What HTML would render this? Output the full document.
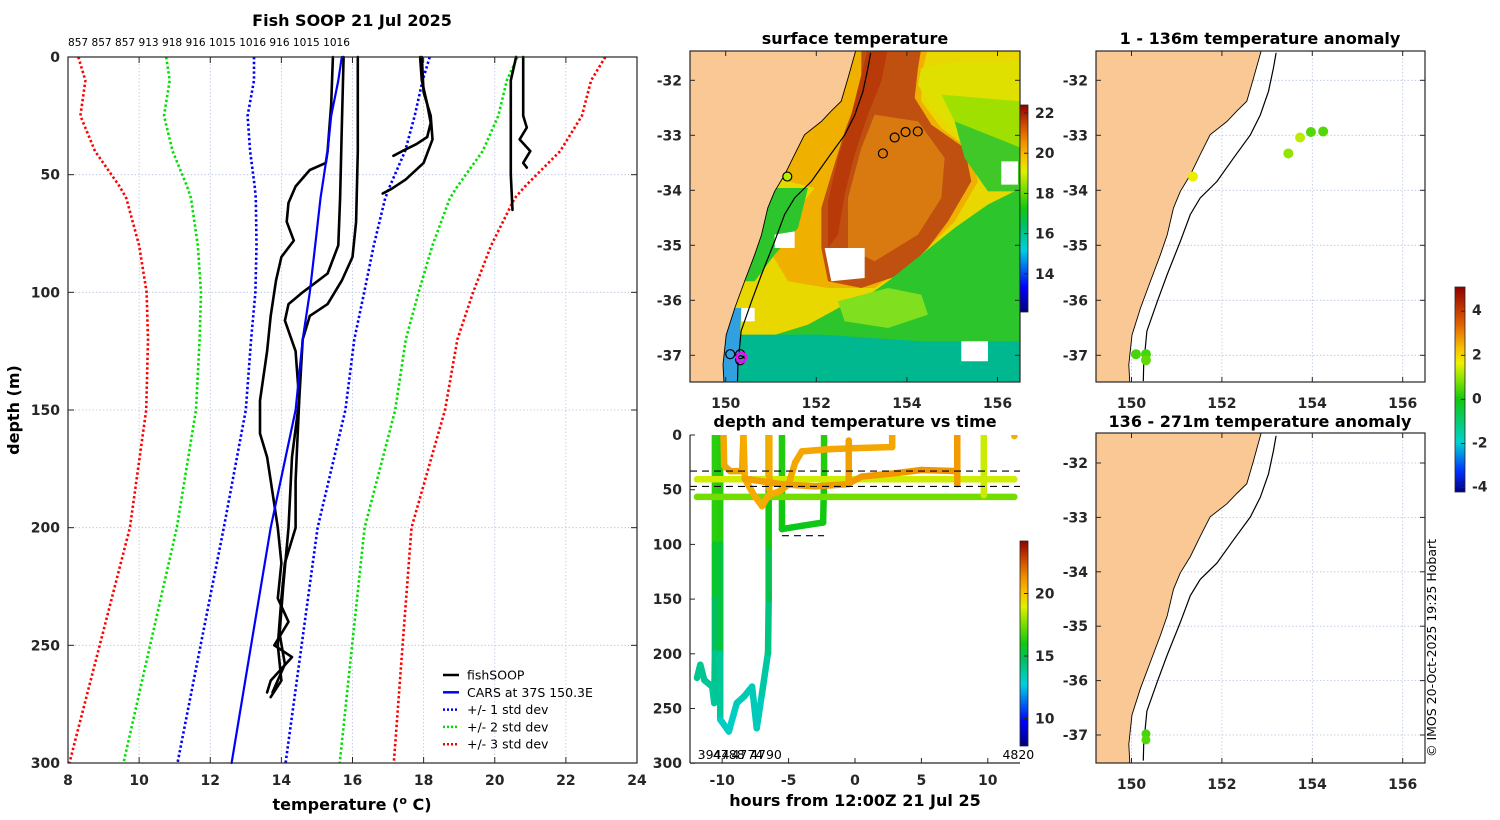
<!DOCTYPE html>
<html><head><meta charset="utf-8">
<style>
html,body{margin:0;padding:0;background:#fff;}
svg{display:block;font-family:"DejaVu Sans","Liberation Sans",sans-serif;}
.tk{font-size:14px;font-weight:bold;fill:#262626;}
.ttl{font-size:16px;font-weight:bold;fill:#000;}
.sm{font-size:11px;fill:#000;}
.lg{font-size:12.5px;fill:#000;}
</style></head>
<body>
<svg id="fig" width="1500" height="820" viewBox="0 0 1500 820" xmlns="http://www.w3.org/2000/svg">
<defs>
<clipPath id="cp1"><rect x="690" y="51" width="330" height="331"/></clipPath>
<clipPath id="cp2"><rect x="1096" y="51" width="329" height="331"/></clipPath>
<clipPath id="cp3"><rect x="1096" y="433" width="329" height="330"/></clipPath>
<clipPath id="cp4"><rect x="690" y="435" width="330" height="328"/></clipPath>
<linearGradient id="gT" x1="0" y1="1" x2="0" y2="0">
<stop offset="0" stop-color="#00007f"/><stop offset="0.12" stop-color="#0000ff"/><stop offset="0.3" stop-color="#00d0e0"/><stop offset="0.42" stop-color="#00c060"/><stop offset="0.5" stop-color="#10c810"/><stop offset="0.6" stop-color="#80e000"/><stop offset="0.68" stop-color="#e0f000"/><stop offset="0.75" stop-color="#f8c000"/><stop offset="0.82" stop-color="#f09000"/><stop offset="0.9" stop-color="#d05000"/><stop offset="1" stop-color="#900000"/>
</linearGradient>
<linearGradient id="gA" x1="0" y1="1" x2="0" y2="0">
<stop offset="0" stop-color="#00007f"/><stop offset="0.1" stop-color="#0030ff"/><stop offset="0.24" stop-color="#00d0d0"/><stop offset="0.45" stop-color="#10c810"/><stop offset="0.57" stop-color="#a0e800"/><stop offset="0.63" stop-color="#f0f000"/><stop offset="0.7" stop-color="#f8c000"/><stop offset="0.82" stop-color="#e06000"/><stop offset="1" stop-color="#900000"/>
</linearGradient>
</defs>
</svg>
<script>
// ---------- data ----------
const profDepths = [0,10,25,40,55,60,80,100,120,150,200,250,300];
const carsMean   = [15.7,15.6,15.4,15.3,15.15,15.1,14.95,14.8,14.6,14.4,13.7,13.15,12.6];
const carsStd    = [2.47,2.37,2.35,2.18,1.9,1.82,1.65,1.53,1.45,1.4,1.32,1.42,1.52];
const fish1 = [[15.45,0],[15.4,20],[15.3,40],[15.25,45],[14.8,48],[14.4,55],[14.2,62],[14.15,70],[14.35,78],[14.0,85],[13.85,95],[13.7,110],[13.6,125],[13.4,146],[13.4,160],[13.6,170],[13.7,180],[13.9,200],[14.0,215],[13.9,230],[14.2,240],[13.8,250],[14.3,255],[13.7,265],[13.6,270]];
const fish2 = [[15.75,0],[15.7,30],[15.65,60],[15.6,80],[15.3,92],[14.6,100],[14.2,105],[14.1,112],[14.4,125],[14.5,146],[14.3,170],[14.2,200],[14.05,225],[13.95,245],[14.1,258],[13.75,270]];
const fish3 = [[16.15,0],[16.15,40],[16.1,70],[16.0,85],[15.7,95],[15.3,105],[14.8,110],[14.6,120],[14.5,146],[14.4,180],[14.4,200],[14.1,215],[14.0,230],[13.9,250],[14.0,265],[13.7,272]];
const fish4 = [[17.9,0],[17.95,10],[18.1,20],[18.2,28],[18.1,34],[17.8,37],[17.4,40],[17.15,42]];
const fish5 = [[17.95,0],[18.0,15],[18.2,25],[18.25,35],[18.0,45],[17.5,52],[17.1,56],[16.85,58]];
const fish6 = [[20.6,0],[20.45,10],[20.45,30],[20.45,50],[20.5,65]];
const fish7 = [[20.8,0],[20.8,25],[20.9,30],[20.7,35],[21.0,40],[20.8,45],[20.9,47]];
const topDepthLabels = ["857","857","857","913","918","916","1015","1016","916","1015","1016"];
const tempTicks = [8,10,12,14,16,18,20,22,24];
const depthTicks = [0,50,100,150,200,250,300];

// time plot tracks [hours, depth, temp]
const trackA = [[-10.55,0,16.6],[-10.55,100,16.2],[-10.55,150,15.0],[-10.55,199,14.3],[-10.6,245,13.8],[-10.75,230,13.8],[-11.35,224,13.8],[-11.65,210,14.0],[-11.9,222,13.9]];
const trackB = [[-10.15,0,16.6],[-10.15,100,16.0],[-10.15,200,14.5],[-10.15,260,13.2],[-9.5,271,13.0],[-8.9,245,13.3],[-8.35,239,13.4],[-7.75,230,13.5],[-7.4,268,13.1],[-7.0,236,13.5],[-6.55,199,13.8],[-6.5,150,14.5],[-6.5,100,15.5],[-6.5,40,16.5],[-6.5,0,16.8]];
const trackC = [[-5.5,0,16.3],[-5.5,50,16.2],[-5.5,86,15.8],[-4.0,83,15.8],[-2.4,80,15.9],[-2.33,40,16.2],[-2.33,0,16.4]];
const trackD = [[-9.9,0,20.7],[-9.85,28,20.7],[-9.4,33,20.8],[-8.5,33,20.8],[-8.4,0,20.7]];
const trackE = [[-8.4,0,20.6],[-8.3,40,20.6],[-7.6,55,20.6],[-7.0,65,20.6],[-6.5,55,20.6],[-5.6,51,20.6],[-5.0,45,20.7],[-4.5,25,20.7],[-4.0,15,20.7],[-2.0,13,20.7],[0,12,20.7],[2.8,11,20.7],[2.8,0,20.7]];
const trackF = [[-6.45,0,20.6],[-6.45,50,20.6]];
const trackG = [[-8.3,40,20.9],[-5.5,45,20.9],[-3.0,47,20.9],[-0.6,45,21.0],[0.5,38,21.0],[3.0,35,21.1],[5.0,32,21.1],[7.7,33,21.1],[7.7,0,21.0],[7.7,45,21.0]];
const trackH = [[-0.47,5,20.9],[-0.47,45,20.9]];
const trackI = [[-11.9,40.5,18.7],[12.0,40.5,18.7]];
const trackJ = [[-11.9,56.6,17.3],[12.0,56.6,17.6]];
const trackK = [[9.7,0,18.8],[9.7,55,18.5]];
const trackL = [[12.0,1,20.5],[12.0,1,20.5]];
const timeTracks = [trackA,trackB,trackC,trackI,trackJ,trackK,trackD,trackE,trackF,trackG,trackH,trackL];
const dashDepths = [33,47];
const dashShort = [[-5.5,-2.33,92]];
const hourTicks = [-10,-5,0,5,10];
const timeLabels = [["3944",-11.85],["4788",-10.7],["4774",-9.3],["4790",-7.9],["4820",12.3]];

// maps
const coastLon = [152.88,152.70,152.55,152.33,152.11,151.74,151.52,151.30,151.08,150.93,150.79,150.64,150.42,150.20,150.01,149.94,149.96];
const coastLat = [-31.50,-31.96,-32.38,-32.56,-32.75,-32.99,-33.35,-33.72,-34.02,-34.32,-34.81,-35.17,-35.65,-36.14,-36.63,-37.17,-37.47];
const shelfLon = [153.20,153.14,153.03,152.85,152.63,152.26,151.89,151.52,151.30,151.08,150.79,150.57,150.34,150.27,150.26];
const shelfLat = [-31.5,-31.78,-32.2,-32.63,-32.99,-33.41,-33.84,-34.14,-34.44,-34.93,-35.53,-36.02,-36.56,-37.17,-37.47];
const stnLon = [153.47,153.73,153.97,154.24,151.36,150.10,150.32,150.32];
const stnLat = [-33.33,-33.04,-32.94,-32.93,-33.75,-36.98,-36.98,-37.09];
const anomUpper = [1.0,1.3,0.5,0.5,1.6,0.4,0.4,0.6];
const deepLon = [150.32,150.32];
const deepLat = [-36.98,-37.09];
const anomDeep = [0.4,0.5];
const lonTicks = [150,152,154,156];
const latTicks = [-32,-33,-34,-35,-36,-37];

// ---------- helpers ----------
const NS="http://www.w3.org/2000/svg";
const svg=document.getElementById('fig');
function mk(tag,attrs,parent){const e=document.createElementNS(NS,tag);for(const k in attrs)e.setAttribute(k,attrs[k]);(parent||svg).appendChild(e);return e;}
function txt(s,x,y,cls,anchor,parent){const e=mk('text',{x:x,y:y,'class':cls,'text-anchor':anchor||'middle'},parent);e.textContent=s;return e;}
const stops=[[0,[0,0,127]],[0.12,[0,0,255]],[0.3,[0,208,224]],[0.42,[0,192,96]],[0.5,[16,200,16]],[0.6,[128,224,0]],[0.68,[224,240,0]],[0.75,[248,192,0]],[0.82,[240,144,0]],[0.9,[208,80,0]],[1,[144,0,0]]];
const stopsA=[[0,[0,0,127]],[0.1,[0,48,255]],[0.24,[0,208,208]],[0.45,[16,200,16]],[0.57,[160,232,0]],[0.63,[240,240,0]],[0.7,[248,192,0]],[0.82,[224,96,0]],[1,[144,0,0]]];
function cmap(v,lo,hi,st){let f=Math.max(0,Math.min(1,(v-lo)/(hi-lo)));for(let i=1;i<st.length;i++){if(f<=st[i][0]){const a=st[i-1],b=st[i];const u=(f-a[0])/(b[0]-a[0]);const c=a[1].map((x,j)=>Math.round(x+(b[1][j]-x)*u));return 'rgb('+c.join(',')+')';}}return 'rgb(144,0,0)';}

// ---------- left profile plot ----------
const L={x0:68,x1:637,y0:57,y1:763};
const tx=t=>L.x0+(t-8)/(24-8)*(L.x1-L.x0);
const dy=d=>L.y0+d/300*(L.y1-L.y0);
const gL=mk('g',{});


tempTicks.forEach(t=>{const l=mk('line',{x1:tx(t),x2:tx(t),y1:L.y0,y2:L.y1,stroke:'#b8c4e0','stroke-width':0.8,'stroke-dasharray':'1.5 2'},gL);

});
depthTicks.forEach(d=>{const l=mk('line',{x1:L.x0,x2:L.x1,y1:dy(d),y2:dy(d),stroke:'#b8c4e0','stroke-width':0.8,'stroke-dasharray':'1.5 2'},gL);

});
function pline(pts,col,w,dash,name,par){const p=mk('polyline',{points:pts.map(q=>q[0].toFixed(1)+','+q[1].toFixed(1)).join(' '),fill:'none',stroke:col,'stroke-width':w,'stroke-dasharray':dash||'none','stroke-linejoin':'round','stroke-linecap':dash?'butt':'round'},par||gL);

return p;}
[[3,'#ff0000','std3'],[2,'#00e000','std2'],[1,'#0000ff','std1']].forEach(([k,c,n])=>{
 pline(profDepths.map((d,i)=>[tx(carsMean[i]-k*carsStd[i]),dy(d)]),c,2.6,'2.4 2.4',n+'-minus-line');
 pline(profDepths.map((d,i)=>[tx(carsMean[i]+k*carsStd[i]),dy(d)]),c,2.6,'2.4 2.4',n+'-plus-line');
});
[fish1,fish2,fish3,fish4,fish5,fish6,fish7].forEach((f,i)=>pline(f.map(q=>[tx(q[0]),dy(q[1])]),'#000',2.6,null,'fishsoop-profile-'+(i+1)));
pline(profDepths.map((d,i)=>[tx(carsMean[i]),dy(d)]),'#0000ff',2.2,null,'cars-mean-line');
const fr=mk('rect',{x:L.x0,y:L.y0,width:L.x1-L.x0,height:L.y1-L.y0,fill:'none',stroke:'#262626','stroke-width':1.2},gL);


tempTicks.forEach(t=>{mk('line',{x1:tx(t),x2:tx(t),y1:L.y1,y2:L.y1-6,stroke:'#262626'},gL);mk('line',{x1:tx(t),x2:tx(t),y1:L.y0,y2:L.y0+6,stroke:'#262626'},gL);
const e=txt(String(t),tx(t),785,'tk','middle',gL);

});
depthTicks.forEach(d=>{mk('line',{x1:L.x0,x2:L.x0+6,y1:dy(d),y2:dy(d),stroke:'#262626'},gL);mk('line',{x1:L.x1,x2:L.x1-6,y1:dy(d),y2:dy(d),stroke:'#262626'},gL);
const e=txt(String(d),L.x0-8,dy(d)+5,'tk','end',gL);

});
let e=txt(topDepthLabels.join(' '),68,46,'sm','start',gL);
e.setAttribute('textLength','282');
e.setAttribute('lengthAdjust','spacingAndGlyphs');


e=txt('Fish SOOP 21 Jul 2025',352,26,'ttl','middle',gL);


e=mk('text',{x:352,y:810,'class':'ttl','text-anchor':'middle'},gL);
e.innerHTML='temperature (<tspan dy="-6" font-size="11">o</tspan><tspan dy="6"> C)</tspan>';


e=txt('depth (m)',0,0,'ttl','middle',gL);e.setAttribute('transform','translate(19,410) rotate(-90)');


const legItems=[['fishSOOP','#000',null],['CARS at 37S 150.3E','#0000ff',null],['+/- 1 std dev','#0000ff','2 2'],['+/- 2 std dev','#00e000','2 2'],['+/- 3 std dev','#ff0000','2 2']];
legItems.forEach((it,i)=>{const y=675+i*17.3;const g=mk('g',{},gL);


mk('line',{x1:443,x2:459,y1:y,y2:y,stroke:it[1],'stroke-width':2.5,'stroke-dasharray':it[2]||'none'},g);txt(it[0],467,y+4.5,'lg','start',g);});

// ---------- map helpers ----------
function mapProj(lonA,xA,pxPerLon,latA,yA,pxPerLat){return {x:lo=>xA+(lo-lonA)*pxPerLon,y:la=>yA-(la-latA)*pxPerLat};}
function drawMapBase(g,P,box,clip){
 const cg=mk('g',{'clip-path':'url(#'+clip+')'},g);
 return cg;}
function land(cg,P,box){const pts=[[box.x-2,box.y-2]];coastLon.forEach((lo,i)=>pts.push([P.x(lo),P.y(coastLat[i])]));pts[1]=[pts[1][0],box.y-2];pts.push([P.x(coastLon[coastLon.length-1]),box.y+box.h+2]);pts.push([box.x-2,box.y+box.h+2]);
 const p=mk('polygon',{points:pts.map(q=>q[0].toFixed(1)+','+q[1].toFixed(1)).join(' '),fill:'#fac894',stroke:'#000','stroke-width':0.9},cg);
 
 
 const s=mk('polyline',{points:shelfLon.map((lo,i)=>P.x(lo).toFixed(1)+','+P.y(shelfLat[i]).toFixed(1)).join(' '),fill:'none',stroke:'#000','stroke-width':1.2},cg);
 
 }
function grid(cg,P,box){lonTicks.forEach(lo=>mk('line',{x1:P.x(lo),x2:P.x(lo),y1:box.y,y2:box.y+box.h,stroke:'#b8c4e0','stroke-width':0.8,'stroke-dasharray':'1.5 2'},cg));
 latTicks.forEach(la=>mk('line',{x1:box.x,x2:box.x+box.w,y1:P.y(la),y2:P.y(la),stroke:'#b8c4e0','stroke-width':0.8,'stroke-dasharray':'1.5 2'},cg));}
function axes(g,P,box,xlabY){mk('rect',{x:box.x,y:box.y,width:box.w,height:box.h,fill:'none',stroke:'#262626','stroke-width':1.2},g);
 lonTicks.forEach(lo=>{mk('line',{x1:P.x(lo),x2:P.x(lo),y1:box.y+box.h,y2:box.y+box.h-5,stroke:'#262626'},g);mk('line',{x1:P.x(lo),x2:P.x(lo),y1:box.y,y2:box.y+5,stroke:'#262626'},g);
  const t=txt(String(lo),P.x(lo),xlabY,'tk','middle',g);
  
  });
 latTicks.forEach(la=>{mk('line',{x1:box.x,x2:box.x+5,y1:P.y(la),y2:P.y(la),stroke:'#262626'},g);mk('line',{x1:box.x+box.w,x2:box.x+box.w-5,y1:P.y(la),y2:P.y(la),stroke:'#262626'},g);
  const t=txt(String(la),box.x-8,P.y(la)+5,'tk','end',g);
  
  });}

// ---------- map 1 : SST ----------
const B1={x:690,y:51,w:330,h:331};
const P1=mapProj(150,725.7,45.3,-32,80.3,55);
const g1=mk('g',{});


const c1=drawMapBase(g1,P1,B1,'cp1');
const sst=mk('g',{transform:'translate(688,48) scale(0.3333)'},c1);


const blobs=[
 ['#2cc52c','0,0 1000,0 1000,1000 0,1000'],
 ['#e8d800','0,0 1000,0 1000,420 900,470 800,540 720,640 600,720 470,770 360,830 230,870 0,870'],
 ['#f0b000','300,0 720,0 700,80 700,160 760,240 840,300 870,400 800,520 700,620 560,720 420,720 300,700 240,600 300,520 380,420 300,400 260,330 330,220'],
 ['#c05010','520,0 700,0 690,60 680,150 730,230 830,300 850,400 780,520 720,600 640,680 520,720 420,700 400,600 400,480 430,380 470,250 520,120'],
 ['#d87a10','560,200 690,220 770,330 760,450 690,560 560,640 480,600 480,450 520,300'],
 ['#b83a08','540,0 600,0 580,100 540,200 500,320 470,440 450,560 420,600 420,460 450,330 490,200'],
 ['#e0e000','700,60 820,40 1000,40 1000,340 900,330 800,250 730,180 690,110'],
 ['#a0e000','760,140 1000,160 1000,330 900,320 810,240'],
 ['#40c828','800,220 1000,300 1000,430 900,430 830,330'],
 ['#2cc52c','600,700 700,620 800,540 900,470 1000,420 1000,1000 480,1000 460,800'],
 ['#80e020','450,760 600,720 700,740 720,800 600,840 470,820'],
 ['#2cc52c','220,420 360,420 330,540 260,620 200,700 120,700 180,550'],
 ['#00b890','100,860 400,860 700,880 1000,880 1000,1000 100,1000'],
 ['#30a0e0','100,780 160,780 150,1000 100,1000'],
 ['#fff','410,600 530,600 530,690 430,700'],
 ['#fff','260,560 320,550 320,600 260,600'],
 ['#fff','820,880 900,880 900,940 820,940'],
 ['#fff','940,340 990,340 990,410 940,410'],
 ['#fff','160,780 200,780 200,820 160,820']
];
blobs.forEach(b=>{const p=mk('polygon',{points:b[1],fill:b[0]},sst);
 
 });
land(c1,P1,B1);
stnLon.forEach((lo,i)=>{let fill='none',st='#000',r=4.5;
 if(i===4){fill='#b8f000';}
 const c=mk('circle',{cx:P1.x(lo),cy:P1.y(stnLat[i]),r:r,fill:fill,stroke:st,'stroke-width':1.2},c1);
 
 });
const mg=mk('circle',{cx:P1.x(150.35),cy:P1.y(-37.04),r:4.5,fill:'none',stroke:'#ff00ff','stroke-width':2.5},c1);


axes(g1,P1,B1,408);
e=txt('surface temperature',855,44,'ttl','middle',g1);


const cb1={x:1020,y0:105,y1:312,lo:12.1,hi:22.4};
e=mk('rect',{x:1020,y:cb1.y0,width:8,height:cb1.y1-cb1.y0,fill:'url(#gT)',stroke:'#262626','stroke-width':0.8},g1);


[14,16,18,20,22].forEach(v=>{const y=cb1.y1-(v-cb1.lo)/(cb1.hi-cb1.lo)*(cb1.y1-cb1.y0);mk('line',{x1:1024,x2:1028,y1:y,y2:y,stroke:'#262626'},g1);
 const t=txt(String(v),1035,y+5,'tk','start',g1);
 
 });

// ---------- map 2 : anomaly 1-136 ----------
const B2={x:1096,y:51,w:329,h:331};
const P2=mapProj(150,1131.5,45.2,-32,80.3,55);
const g2=mk('g',{});


const c2=drawMapBase(g2,P2,B2,'cp2');
grid(c2,P2,B2);land(c2,P2,B2);
stnLon.forEach((lo,i)=>{const c=mk('circle',{cx:P2.x(lo),cy:P2.y(stnLat[i]),r:5,fill:cmap(anomUpper[i],-4.2,5.1,stopsA)},c2);
 
 });
axes(g2,P2,B2,408);
e=txt('1 - 136m temperature anomaly',1260,44,'ttl','middle',g2);


const cbA={y0:287,y1:492,lo:-4.2,hi:5.1};
e=mk('rect',{x:1455,y:cbA.y0,width:10,height:cbA.y1-cbA.y0,fill:'url(#gA)',stroke:'#262626','stroke-width':0.8},g2);


[-4,-2,0,2,4].forEach(v=>{const y=cbA.y1-(v-cbA.lo)/(cbA.hi-cbA.lo)*(cbA.y1-cbA.y0);mk('line',{x1:1461,x2:1465,y1:y,y2:y,stroke:'#262626'},g2);
 const t=txt(String(v),1472,y+4,'tk','start',g2);t.setAttribute('font-size','12');
 
 });

// ---------- map 3 : anomaly 136-271 ----------
const B3={x:1096,y:433,w:329,h:330};
const P3=mapProj(150,1131.5,45.2,-32,463,54.4);
const g3=mk('g',{});


const c3=drawMapBase(g3,P3,B3,'cp3');
grid(c3,P3,B3);land(c3,P3,B3);
deepLon.forEach((lo,i)=>{const c=mk('circle',{cx:P3.x(lo),cy:P3.y(deepLat[i]),r:4.5,fill:cmap(anomDeep[i],-4.2,5.1,stopsA)},c3);
 
 });
axes(g3,P3,B3,789);
e=txt('136 - 271m temperature anomaly',1260,427,'ttl','middle',g3);



// ---------- time plot ----------
const T={x0:690,x1:1020,y0:435,y1:763};
const hx=h=>855+h*13.28;
const dz=d=>435+d*1.094;
const g4=mk('g',{});


const c4=mk('g',{'clip-path':'url(#cp4)'},g4);
timeTracks.forEach(tr=>{for(let i=0;i<tr.length-1;i++){const a=tr[i],b=tr[i+1];
 const l=mk('line',{x1:hx(a[0]),y1:dz(a[1]),x2:hx(b[0]),y2:dz(b[1]),stroke:cmap((a[2]+b[2])/2,7.8,24.2,stops),'stroke-width':6.5,'stroke-linecap':'round'},c4);
 
 }});
dashDepths.forEach(d=>{const l=mk('line',{x1:T.x0,x2:T.x1,y1:dz(d),y2:dz(d),stroke:'#000','stroke-width':1.1,'stroke-dasharray':'7 5'},c4);
 
 });
dashShort.forEach(s=>{const l=mk('line',{x1:hx(s[0]),x2:hx(s[1]),y1:dz(s[2]),y2:dz(s[2]),stroke:'#000','stroke-width':1.1,'stroke-dasharray':'7 5'},c4);
 
 });
timeLabels.forEach(s=>{const t=txt(s[0],hx(s[1]),759,'lg',s[1]>11?'middle':'start',g4);
 
 });
mk('line',{x1:T.x0,x2:T.x0,y1:T.y0,y2:T.y1,stroke:'#262626','stroke-width':1.2},g4);
mk('line',{x1:T.x0,x2:T.x1,y1:T.y1,y2:T.y1,stroke:'#262626','stroke-width':1.2},g4);
hourTicks.forEach(h=>{mk('line',{x1:hx(h),x2:hx(h),y1:T.y1,y2:T.y1-5,stroke:'#262626'},g4);
 const t=txt(String(h),hx(h),785,'tk','middle',g4);
 
 });
depthTicks.forEach(d=>{mk('line',{x1:T.x0,x2:T.x0+5,y1:dz(d),y2:dz(d),stroke:'#262626'},g4);
 const t=txt(String(d),T.x0-8,dz(d)+5,'tk','end',g4);
 
 });
e=txt('depth and temperature vs time',855,427,'ttl','middle',g4);


e=txt('hours from 12:00Z 21 Jul 25',855,806,'ttl','middle',g4);


const cbT={y0:541,y1:746,lo:7.8,hi:24.2};
e=mk('rect',{x:1020,y:cbT.y0,width:8,height:cbT.y1-cbT.y0,fill:'url(#gT)',stroke:'#262626','stroke-width':0.8},g4);


[10,15,20].forEach(v=>{const y=cbT.y1-(v-cbT.lo)/(cbT.hi-cbT.lo)*(cbT.y1-cbT.y0);mk('line',{x1:1024,x2:1028,y1:y,y2:y,stroke:'#262626'},g4);
 const t=txt(String(v),1035,y+5,'tk','start',g4);
 
 });

// copyright
e=txt('© IMOS 20-Oct-2025 19:25 Hobart',0,0,'lg','middle');
e.setAttribute('transform','translate(1436,648) rotate(-90)');
e.setAttribute('font-size','12');


</script>
</body></html>
